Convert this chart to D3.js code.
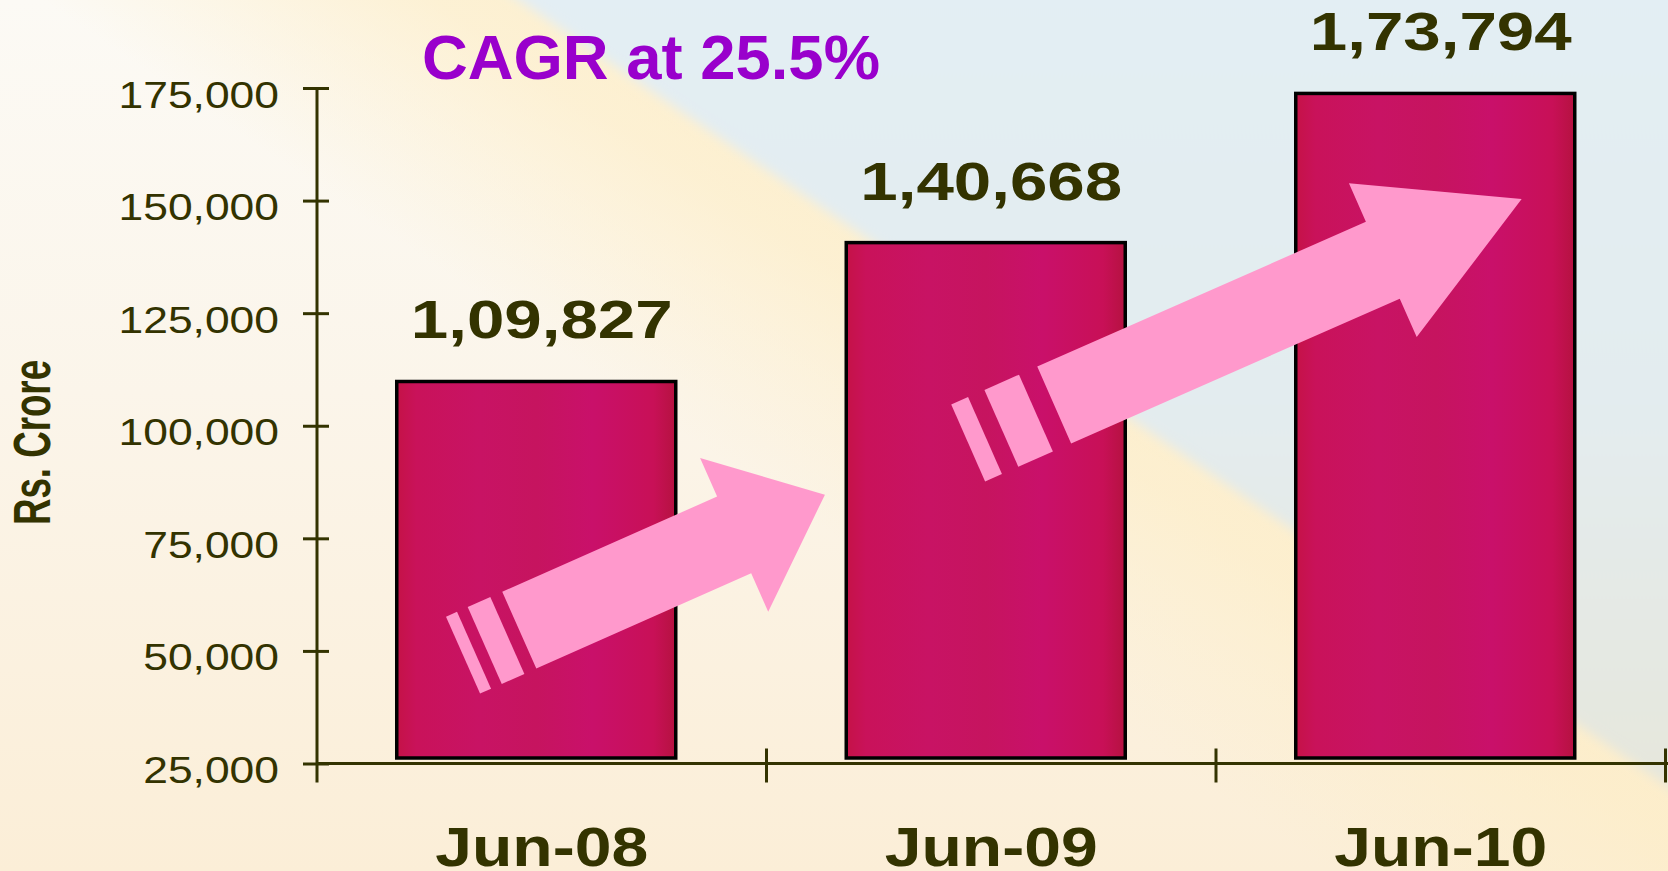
<!DOCTYPE html>
<html>
<head>
<meta charset="utf-8">
<script src="https://cdn.jsdelivr.net/npm/d3@7/dist/d3.min.js"></script>
<style>
  body { margin: 0; overflow: hidden; background: #fbf3e6; }
  text { font-family: "Liberation Sans", Arial, sans-serif; }
</style>
</head>
<body>
<div id="chart"></div>
<script>
// chart values
const categories = ["Jun-08", "Jun-09", "Jun-10"];
const values = [109827, 140668, 173794];
const valueLabels = ["1,09,827", "1,40,668", "1,73,794"];
const yTicks = [25000, 50000, 75000, 100000, 125000, 150000, 175000];
const title = "CAGR at 25.5%";
const yTitle = "Rs. Crore";
// growth arrows, anchored in data space as [category index, value]
const arrowFrom = [[-0.05, 54600], [1.14, 104600]];
const arrowTo = [[0.63, 84700], [2.18, 150350]];

const width = 1668, height = 871;
const ink = "#333300";

let svg = d3.select("#chart").append("svg")
  .attr("width", width)
  .attr("height", height)
  .attr("viewBox", [0, 0, width, height].join(" "));

let defs = svg.append("defs");

// background: cream base, pale yellow diagonal band, pale blue upper right
let base = defs.append("linearGradient").attr("id", "bgBase")
  .attr("x1", 0).attr("y1", 0).attr("x2", 0).attr("y2", 1);
base.append("stop").attr("offset", 0).attr("stop-color", "#fcfaf5");
base.append("stop").attr("offset", 0.45).attr("stop-color", "#fbf5ea");
base.append("stop").attr("offset", 1).attr("stop-color", "#fbeed7");

let band = defs.append("linearGradient").attr("id", "bgBand")
  .attr("gradientUnits", "userSpaceOnUse")
  .attr("x1", 924).attr("y1", 766).attr("x2", 1204).attr("y2", 352);
[[0, 0], [0.28, 0], [0.5, 0.35], [0.72, 0.7], [0.8, 0.75], [1, 0.75]].forEach(function(s) {
  band.append("stop").attr("offset", s[0]).attr("stop-color", "#fdedc6").attr("stop-opacity", s[1]);
});

let blue = defs.append("linearGradient").attr("id", "bgBlue")
  .attr("x1", 0).attr("y1", 0).attr("x2", 0).attr("y2", 1);
blue.append("stop").attr("offset", 0).attr("stop-color", "#e3eef4");
blue.append("stop").attr("offset", 0.5).attr("stop-color", "#e3ecef");
blue.append("stop").attr("offset", 1).attr("stop-color", "#e6e6da");

defs.append("filter").attr("id", "soft")
  .attr("x", -0.1).attr("y", -0.1).attr("width", 1.2).attr("height", 1.2)
  .append("feGaussianBlur").attr("stdDeviation", 6);

let barGrad = defs.append("linearGradient").attr("id", "barFill")
  .attr("x1", 0).attr("y1", 0).attr("x2", 1).attr("y2", 0);
[[0, "#c51247"], [0.07, "#c9125a"], [0.3, "#c81364"], [0.5, "#c6145f"],
 [0.7, "#c9106a"], [0.92, "#c81057"], [1, "#b51240"]].forEach(function(s) {
  barGrad.append("stop").attr("offset", s[0]).attr("stop-color", s[1]);
});

svg.append("rect").attr("width", width).attr("height", height).attr("fill", "url(#bgBase)");
svg.append("rect").attr("width", width).attr("height", height).attr("fill", "url(#bgBand)");
svg.append("polygon")
  .attr("points", "475,-30 1730,-30 1730,829")
  .attr("fill", "url(#bgBlue)")
  .attr("filter", "url(#soft)");

// scales
let x = d3.scaleBand().domain(categories).range([317, 1665.5]);
let xi = d3.scaleLinear().domain([0, categories.length - 1])
  .range([x(categories[0]) + x.bandwidth() / 2, x(categories[categories.length - 1]) + x.bandwidth() / 2]);
let y = d3.scaleLinear().domain([25000, 175000]).range([763.5, 88]);

const barWidth = 279, barShift = -5.5, barGap = 5.5;

// y axis with crossing ticks
let yAxis = svg.append("g")
  .attr("transform", "translate(" + x.range()[0] + ",0)")
  .call(d3.axisLeft(y).tickValues(yTicks).tickSize(14).tickFormat(d3.format(",")));
yAxis.select(".domain").remove();
yAxis.selectAll(".tick line").attr("x1", 12).attr("stroke", ink).attr("stroke-width", 3);
yAxis.selectAll(".tick text")
  .attr("x", null).attr("dy", null)
  .attr("transform", "translate(-38,19) scale(1.2,1)")
  .attr("fill", ink)
  .style("font-size", "37px");
yAxis.append("line")
  .attr("y1", y(175000)).attr("y2", y(25000) + 19)
  .attr("stroke", ink).attr("stroke-width", 3);

// x axis: line, boundary ticks, centred labels
let xAxis = svg.append("g")
  .attr("transform", "translate(0," + y(25000) + ")")
  .call(d3.axisBottom(x).tickSize(0).tickPadding(0));
xAxis.select(".domain").remove();
xAxis.selectAll(".tick text")
  .attr("y", null).attr("dy", null)
  .attr("transform", "translate(0,102) scale(1.18,1)")
  .attr("fill", ink)
  .style("font-size", "56px")
  .style("font-weight", "bold");
xAxis.append("line")
  .attr("x1", x.range()[0]).attr("x2", width)
  .attr("stroke", ink).attr("stroke-width", 3);
xAxis.selectAll(".bound")
  .data(categories)
  .enter().append("line")
  .attr("class", "bound")
  .attr("x1", function(d) { return x(d) + x.bandwidth(); })
  .attr("x2", function(d) { return x(d) + x.bandwidth(); })
  .attr("y1", -15).attr("y2", 19)
  .attr("stroke", ink).attr("stroke-width", 3);

// bars
svg.selectAll(".bar")
  .data(values)
  .enter().append("rect")
  .attr("class", "bar")
  .attr("x", function(d, i) { return x(categories[i]) + (x.bandwidth() - barWidth) / 2 + barShift; })
  .attr("width", barWidth)
  .attr("y", function(d) { return y(d); })
  .attr("height", function(d) { return y(25000) - barGap - y(d); })
  .attr("fill", "url(#barFill)")
  .attr("stroke", "#000")
  .attr("stroke-width", 3.5);

// value labels
svg.selectAll(".val")
  .data(values)
  .enter().append("text")
  .attr("class", "val")
  .attr("transform", function(d, i) {
    return "translate(" + (x(categories[i]) + x.bandwidth() / 2) + "," + (y(d) - 43) + ") scale(1.27,1)";
  })
  .attr("text-anchor", "middle")
  .attr("fill", ink)
  .style("font-size", "53px")
  .style("font-weight", "bold")
  .text(function(d, i) { return valueLabels[i]; });

// pink growth arrows with speed stripes
function arrowShapes(a, b) {
  let x0 = xi(a[0]), y0 = y(a[1]), x1 = xi(b[0]), y1 = y(b[1]);
  let L = Math.hypot(x1 - x0, y1 - y0);
  let ux = (x1 - x0) / L, uy = (y1 - y0) / L, px = -uy, py = ux;
  let pt = function(u, p) { return [x0 + ux * u + px * p, y0 + uy * u + py * p]; };
  let join = L * 0.703, bw = 42, hw = 84;
  let shapes = [[pt(0, -bw), pt(join, -bw), pt(join, -hw), pt(L, 0), pt(join, hw), pt(join, bw), pt(0, bw)]];
  [[-0.113, -0.039], [-0.184, -0.148]].forEach(function(s) {
    shapes.push([pt(s[0] * L, -bw), pt(s[1] * L, -bw), pt(s[1] * L, bw), pt(s[0] * L, bw)]);
  });
  return shapes;
}

arrowFrom.forEach(function(a, i) {
  svg.append("g").attr("class", "arrow")
    .selectAll("polygon")
    .data(arrowShapes(a, arrowTo[i]))
    .enter().append("polygon")
    .attr("points", function(d) { return d.map(function(p) { return p.join(","); }).join(" "); })
    .attr("fill", "#ff99cc");
});

// title and axis title
svg.append("text")
  .attr("x", 422).attr("y", 79)
  .attr("textLength", 458)
  .attr("lengthAdjust", "spacingAndGlyphs")
  .attr("fill", "#9900cc")
  .style("font-size", "63px")
  .style("font-weight", "bold")
  .text(title);

svg.append("text")
  .attr("transform", "translate(50,442.5) rotate(-90) scale(0.917,1.28)")
  .attr("text-anchor", "middle")
  .attr("fill", ink)
  .style("font-size", "40px")
  .style("font-weight", "bold")
  .text(yTitle);
</script>
</body>
</html>
